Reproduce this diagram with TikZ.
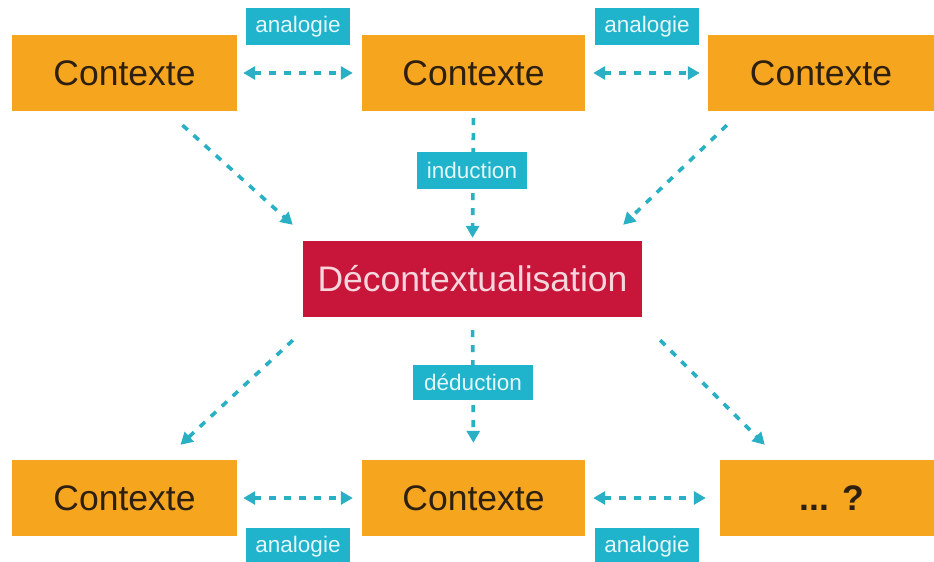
\documentclass[tikz,border=0pt]{standalone}
\usepackage{fontspec}
\setmainfont{Liberation Sans}
\usetikzlibrary{arrows.meta,calc}

\definecolor{ctxorange}{HTML}{F6A51E}
\definecolor{ctxtext}{HTML}{2E2010}
\definecolor{decred}{HTML}{C8153A}
\definecolor{dectext}{HTML}{F6D6DD}
\definecolor{tagteal}{HTML}{1FB3CC}
\definecolor{tagtext}{HTML}{E4F7FA}
\definecolor{linkteal}{HTML}{2AB0C4}

\tikzset{
  ctxbox/.style={rectangle, fill=ctxorange, text=ctxtext, inner sep=0pt,
    minimum height=76pt, font=\fontsize{35.5}{42}\selectfont},
  decbox/.style={rectangle, fill=decred, text=dectext, inner sep=0pt,
    minimum width=339pt, minimum height=76pt, font=\fontsize{35.5}{42}\selectfont},
  tag/.style={rectangle, fill=tagteal, text=tagtext, inner sep=0pt,
    minimum height=37pt, font=\fontsize{22.5}{26}\selectfont},
  link/.style={draw=linkteal, line width=3.6pt, dash pattern=on 7pt off 8pt,
    -{Triangle[length=12pt,width=13pt]}},
  twoway/.style={link, {Triangle[length=12pt,width=13pt]}-{Triangle[length=12pt,width=13pt]}}
}

\begin{document}
\begin{tikzpicture}[x=1pt,y=-1pt]
\useasboundingbox (0,0) rectangle (934,562);

% top row
\node[ctxbox, minimum width=225pt] (tl) at (124.5,73) {Contexte};
\node[ctxbox, minimum width=223pt] (tm) at (473.5,73) {Contexte};
\node[ctxbox, minimum width=226pt] (tr) at (821,73) {Contexte};

% centre
\node[decbox] (dec) at (472.5,279) {Décontextualisation};

% bottom row
\node[ctxbox, minimum width=225pt] (bl) at (124.5,498) {Contexte};
\node[ctxbox, minimum width=223pt] (bm) at (473.5,498) {Contexte};
\node[ctxbox, minimum width=214pt] (br) at (827,498) {\hspace{10pt}\textbf{... ?}};

% analogies between neighbouring contexts
\draw[twoway, shorten <=6pt, shorten >=9pt] (tl.east) -- (tm.west);
\draw[twoway, shorten <=8pt, shorten >=8pt] (tm.east) -- (tr.west);
\draw[twoway, shorten <=6pt, shorten >=9pt] (bl.east) -- (bm.west);
\draw[twoway, shorten <=8pt, shorten >=14pt] (bm.east) -- (br.west);

% induction towards the centre
\draw[link, shorten <=7pt, shorten >=3pt] (tm.south) -- (dec.north);
\draw[link] ([xshift=58pt,yshift=-14pt]tl.south) -- ([xshift=-10pt,yshift=16pt]dec.north west);
\draw[link] ([xshift=19pt,yshift=-14pt]tr.south west) -- ([xshift=-19pt,yshift=16pt]dec.north east);

% deduction away from the centre
\draw[link, shorten <=13pt, shorten >=17pt] (dec.south) -- (bm.north);
\draw[link] ([xshift=-10pt,yshift=-23pt]dec.south west) -- ([xshift=56pt,yshift=15pt]bl.north);
\draw[link] ([xshift=18pt,yshift=-23pt]dec.south east) -- ([xshift=45pt,yshift=15pt]br.north west);

% labels
\node[tag, minimum width=104pt] (ana1) at (298,26.5) {analogie};
\node[tag, minimum width=104pt] (ana2) at (647,26.5) {analogie};
\node[tag, minimum width=110pt] (ind) at (472,170.5) {induction};
\node[tag, minimum width=120pt, minimum height=35pt] (ded) at (473,382.5) {déduction};
\node[tag, minimum width=104pt] (ana3) at (298,546.5) {analogie};
\node[tag, minimum width=104pt] (ana4) at (647,546.5) {analogie};
\end{tikzpicture}
\end{document}
